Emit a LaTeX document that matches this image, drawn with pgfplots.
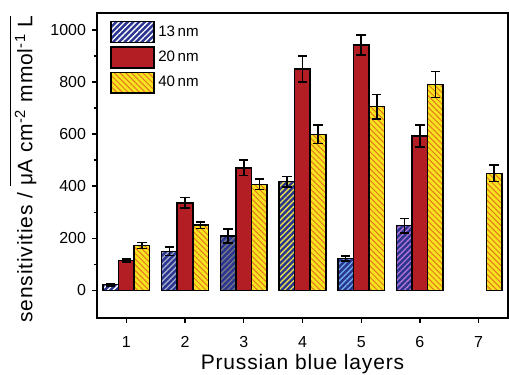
\documentclass[border=0pt]{standalone}
\usepackage{fontspec}
\setmainfont{Liberation Sans}
\usepackage{pgfplots}
\pgfplotsset{compat=1.18}
\usetikzlibrary{patterns.meta}
\definecolor{navy}{RGB}{42,52,145}
\definecolor{barred}{RGB}{178,30,36}
\definecolor{baryel}{RGB}{245,228,30}
\definecolor{barorg}{RGB}{232,118,32}
\definecolor{s1}{RGB}{255,255,255}
\definecolor{s2}{RGB}{165,172,200}
\definecolor{s3}{RGB}{120,120,130}
\definecolor{s4}{RGB}{232,226,70}
\definecolor{s5}{RGB}{110,175,232}
\definecolor{s6}{RGB}{180,115,210}
\tikzset{
  bluebar/.style={fill=navy, draw=black, line width=0.9pt,
    postaction={pattern={Lines[angle=45,distance=2.4pt,line width=0.8pt]}, pattern color=#1}},
}
\begin{document}
\begin{tikzpicture}
\begin{axis}[name=ax,
  scale only axis, width=244.6pt, height=181.5pt,
  xmin=0.5, xmax=7.5, ymin=-106, ymax=1065,
  ybar, bar width=0.265,
  axis line style={line width=0.9pt},
  xtick={1,2,3,4,5,6,7},
  ytick={0,200,400,600,800,1000},
  minor y tick num=1,
  tick align=outside, xtick pos=bottom, ytick pos=left,
  major tick length=3pt, minor tick length=2pt,
  every tick/.style={line width=0.8pt, black},
  tick label style={font=\fontsize{9.5}{11}\selectfont},
  xticklabel style={yshift=-4.5pt},
  /pgf/number format/assume math mode=true,
  /pgf/number format/1000 sep={},
  xlabel={Prussian blue layers},
  xlabel style={font=\fontsize{12.5}{14}\selectfont\addfontfeatures{LetterSpace=4}, yshift=2.8pt},
  ylabel={sensitivities / $\overline{\mbox{\rule{0pt}{12pt}μA cm\textsuperscript{-2} mmol\textsuperscript{-1} L}}$},
  ylabel style={font=\fontsize{12.5}{14}\selectfont\addfontfeatures{LetterSpace=4}, at={(ticklabel cs:0.488)}, yshift=1.5pt},
  error bars/y dir=both, error bars/y explicit,
  error bars/error bar style={line width=0.9pt, black},
  error bars/error mark options={rotate=90, mark size=2.8pt, line width=0.9pt, black},
  legend style={at={(0.032,0.975)}, anchor=north west, draw=none, fill=none,
    font=\fontsize{9}{10}\selectfont, row sep=1.8pt, inner sep=0pt},
  legend cell align=left,
  legend image code/.code={\draw[#1, /pgfplots/error bars/draw error bar/.code 2 args={}] (0pt,-6.2pt) rectangle (25.6pt,6.2pt);},
]
\addplot[bluebar=s1, bar shift=-0.265] coordinates {(1,22) +- (0,5)};
\addlegendentry{13\,nm}
\addplot[fill=barred, draw=black, line width=0.9pt, bar shift=0] coordinates {
  (1,115) +- (0,6)
  (2,336) +- (0,20)
  (3,470) +- (0,30)
  (4,850) +- (0,50)
  (5,942) +- (0,38)
  (6,592) +- (0,42)
};
\addlegendentry{20\,nm}
\addplot[fill=baryel, draw=black, line width=0.9pt, bar shift=0.265,
  postaction={pattern={Lines[angle=-45,distance=2.4pt,line width=0.6pt]}, pattern color=barorg}] coordinates {
  (1,172) +- (0,12)
  (2,250) +- (0,12)
  (3,407) +- (0,20)
  (4,599) +- (0,35)
  (5,705) +- (0,47)
  (6,791) +- (0,50)
  (7,449) +- (0,32)
};
\addlegendentry{40\,nm}
\addplot[bluebar=s2, bar shift=-0.265, forget plot] coordinates {(2,150) +- (0,16)};
\addplot[bluebar=s3, bar shift=-0.265, forget plot] coordinates {(3,208) +- (0,27)};
\addplot[bluebar=s4, bar shift=-0.265, forget plot] coordinates {(4,417) +- (0,20)};
\addplot[bluebar=s5, bar shift=-0.265, forget plot] coordinates {(5,122) +- (0,10)};
\addplot[bluebar=s6, bar shift=-0.265, forget plot] coordinates {(6,248) +- (0,28)};
\end{axis}
\pgfresetboundingbox
\path ([xshift=-57.7pt,yshift=-33.9pt]ax.south west) rectangle ([xshift=0.6pt,yshift=7.7pt]ax.north east);
\end{tikzpicture}
\end{document}
